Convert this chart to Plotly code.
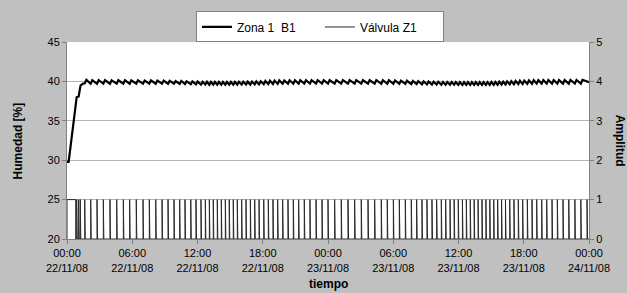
import pandas as pd
import plotly.graph_objects as go

# ---- data (hours from 22/11/08 00:00) ----
start = pd.Timestamp("2008-11-22 00:00")

# valve pulse times (h)
pulse_times = [
    0.89, 1.07, 1.22, 1.63, 2.18, 2.76, 3.34, 3.95, 4.57, 5.18, 5.76, 6.37, 6.99, 7.57, 8.16, 8.74,
    9.29, 9.84, 10.36, 10.85, 11.38, 11.86,
    12.32, 12.72, 13.09, 13.45, 13.82, 14.19, 14.56, 14.92, 15.29, 15.66, 16.06, 16.46, 16.86, 17.26,
    17.66, 18.09, 18.51, 18.94, 19.37, 19.83, 20.32, 20.81, 21.30, 21.82, 22.34, 22.90, 23.45, 24.00,
    24.61, 25.22, 25.84, 26.45, 27.06, 27.68, 28.29, 28.90, 29.45, 30.01, 30.56, 31.11, 31.66, 32.15,
    32.64, 33.10, 33.56, 33.99, 34.42, 34.82, 35.22, 35.60, 35.98,
    36.36, 36.72, 37.08, 37.44, 37.80, 38.16, 38.52, 38.88, 39.24, 39.60, 39.96, 40.32, 40.71, 41.10,
    41.50, 41.90, 42.33, 42.76, 43.19, 43.65, 44.11, 44.60, 45.09, 45.61, 46.14, 46.70, 47.25, 47.82,
]
valve_initial_on = [0.0, 0.80]   # valve open at start (h)
pulse_width = 0.05               # h

# humidity: initial rise
hum_rise_t = [0.0, 0.15, 0.89, 1.07, 1.25, 1.45]
hum_rise_v = [29.8, 29.8, 38.0, 38.1, 39.5, 39.7]
# humidity troughs / peaks for each pulse from 1.63 h onwards
hum_trough = [
    39.75, 39.70, 39.70, 39.72, 39.70, 39.70, 39.72, 39.70, 39.70, 39.70, 39.72, 39.70, 39.70, 39.68,
    39.70, 39.68, 39.66, 39.65, 39.62,
    39.60, 39.60, 39.58, 39.58, 39.58, 39.58, 39.58, 39.58, 39.58, 39.60, 39.60, 39.60, 39.60, 39.62,
    39.62, 39.64, 39.65, 39.66, 39.68, 39.70, 39.70, 39.70, 39.72, 39.72, 39.72, 39.72, 39.72, 39.72,
    39.72, 39.72, 39.72, 39.72, 39.72, 39.72, 39.72, 39.70, 39.70, 39.70, 39.70, 39.68, 39.66, 39.65,
    39.64, 39.62, 39.60, 39.60, 39.58, 39.58, 39.58, 39.58,
    39.56, 39.55, 39.55, 39.55, 39.55, 39.55, 39.55, 39.55, 39.56, 39.56, 39.58, 39.60, 39.60, 39.62,
    39.64, 39.66, 39.68, 39.70, 39.70, 39.72, 39.72, 39.72, 39.72, 39.72, 39.72, 39.72, 39.72, 39.72,
]
hum_peak = [
    40.20, 40.15, 40.15, 40.15, 40.12, 40.15, 40.15, 40.12, 40.12, 40.10, 40.12, 40.10, 40.10, 40.08,
    40.05, 40.05, 40.02, 40.00, 39.98,
    39.95, 39.95, 39.93, 39.93, 39.93, 39.93, 39.93, 39.93, 39.93, 39.95, 39.95, 39.97, 39.98, 40.00,
    40.02, 40.05, 40.08, 40.10, 40.12, 40.12, 40.14, 40.15, 40.15, 40.15, 40.15, 40.15, 40.15, 40.15,
    40.17, 40.17, 40.17, 40.17, 40.15, 40.15, 40.15, 40.15, 40.15, 40.12, 40.10, 40.08, 40.05, 40.02,
    40.00, 39.98, 39.96, 39.95, 39.93, 39.92, 39.92, 39.92,
    39.90, 39.90, 39.90, 39.90, 39.90, 39.90, 39.90, 39.90, 39.92, 39.93, 39.95, 39.97, 40.00, 40.02,
    40.05, 40.08, 40.10, 40.12, 40.14, 40.15, 40.17, 40.17, 40.17, 40.17, 40.17, 40.18, 40.18, 40.20,
]
hum_end = [48.0, 39.9]

x_tick_hours = [0, 6, 12, 18, 24, 30, 36, 42, 48]

# ---- build series ----
def ts(h):
    return start + pd.to_timedelta(h, unit="h")

hx, hy = list(hum_rise_t), list(hum_rise_v)
saw_pulses = [t for t in pulse_times if t >= 1.6]
for t, tr, pk in zip(saw_pulses, hum_trough, hum_peak):
    hx += [t, t + 0.15]
    hy += [tr, pk]
hx.append(hum_end[0]); hy.append(hum_end[1])

vx = [0.0, valve_initial_on[0], valve_initial_on[1], valve_initial_on[1]]
vy = [0.0, 1.0, 1.0, 0.0]
for t in pulse_times:
    vx += [t, t, t + pulse_width, t + pulse_width]
    vy += [0, 1, 1, 0]
vx.append(48.0); vy.append(0)

FONT = "Liberation Sans, Arial, sans-serif"
GRAY = "#808080"

fig = go.Figure()
fig.add_trace(go.Scatter(x=[ts(h) for h in hx], y=hy, mode="lines", name="Zona 1\u00a0 B1",
                         line=dict(color="black", width=2.2), yaxis="y"))
fig.add_trace(go.Scatter(x=[ts(h) for h in vx], y=vy, mode="lines", name="Válvula Z1",
                         line=dict(color="#2a2a2a", width=1), yaxis="y2"))

fig.update_layout(
    width=627, height=293,
    margin=dict(l=67, r=38, t=40, b=54),
    paper_bgcolor="#c0c0c0", plot_bgcolor="white",
    font=dict(family=FONT, size=11, color="black"),
    showlegend=True,
    legend=dict(orientation="h", x=0.247, y=1.155, xanchor="left", yanchor="top",
                bgcolor="white", bordercolor=GRAY, borderwidth=1,
                font=dict(size=12), entrywidth=78, tracegroupgap=0),
    xaxis=dict(type="date", range=[ts(0), ts(48)],
               tickvals=[ts(h) for h in x_tick_hours],
               tickformat="%H:%M<br>%d/%m/%y",
               showgrid=False, showline=True, linecolor=GRAY, linewidth=1,
               ticks="outside", ticklen=4, tickcolor=GRAY, zeroline=False,
               tickfont=dict(size=11)),
    yaxis=dict(range=[20, 45], dtick=5, showgrid=True, gridcolor="#b4b4b4", gridwidth=1,
               showline=True, linecolor=GRAY, linewidth=1, ticks="outside", ticklen=4,
               tickcolor=GRAY, zeroline=False, tickfont=dict(size=11)),
    yaxis2=dict(range=[0, 5], dtick=1, overlaying="y", side="right", showgrid=False,
                showline=True, linecolor=GRAY, linewidth=1, ticks="outside", ticklen=4,
                tickcolor=GRAY, zeroline=False, tickfont=dict(size=11)),
    annotations=[
        dict(text="<b>Humedad [%]</b>", xref="paper", yref="paper", x=-0.094, y=0.5,
             textangle=-90, showarrow=False, font=dict(size=12), xanchor="center", yanchor="middle"),
        dict(text="<b>Amplitud</b>", xref="paper", yref="paper", x=1.061, y=0.5,
             textangle=90, showarrow=False, font=dict(size=12), xanchor="center", yanchor="middle"),
        dict(text="<b>tiempo</b>", xref="paper", yref="paper", x=0.5, y=-0.226,
             showarrow=False, font=dict(size=12), xanchor="center", yanchor="middle"),
    ],
)

fig.write_html("out.html", config={"displayModeBar": False},
               post_script="document.body.style.margin='0';")
